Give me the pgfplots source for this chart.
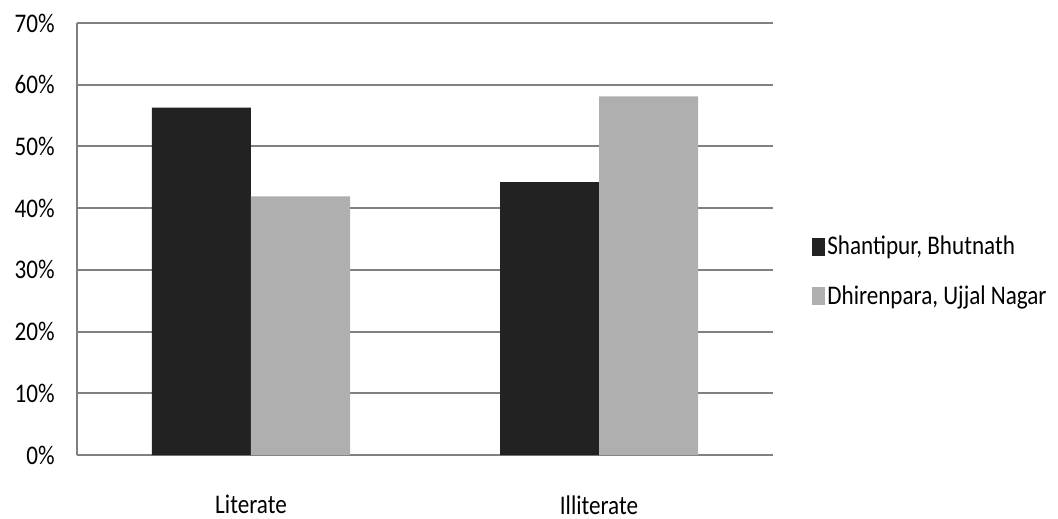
\documentclass[border=0pt]{standalone}
\usepackage{pgfplots}
\pgfplotsset{compat=1.18}
\usepackage{graphicx}
\usepackage{fontspec}
\setmainfont{Carlito}
\newcommand{\sq}[1]{\scalebox{0.86}[1]{#1}}
\definecolor{darkbar}{RGB}{34,34,34}
\definecolor{lightbar}{RGB}{175,175,175}
\definecolor{gridc}{RGB}{128,128,128}
\begin{document}
\begin{tikzpicture}
\useasboundingbox (-38.5bp,-32bp) rectangle (490.5bp,227.5bp);
\begin{axis}[
  at={(0,0)}, anchor=south west,
  scale only axis, width=348bp, height=216bp,
  xmin=-0.5, xmax=1.5, ymin=0, ymax=70,
  xtick={0,1}, xticklabels={\sq{Literate},\sq{Illiterate}},
  ytick={0,10,20,30,40,50,60,70},
  yticklabels={\sq{0\%},\sq{10\%},\sq{20\%},\sq{30\%},\sq{40\%},\sq{50\%},\sq{60\%},\sq{70\%}},
  ybar=0pt, bar width=49.5bp,
  ymajorgrids, grid style={draw=gridc, line width=1bp},
  axis x line*=bottom, axis y line*=left,
  axis line style={-, draw=gridc, line width=1bp},
  major tick length=0pt,
  tick label style={font=\fontsize{13.5}{16}\selectfont, text=black},
  yticklabel style={anchor=east, inner sep=0pt, xshift=-11bp},
  xticklabel style={anchor=north, inner sep=0pt, yshift=-20bp},
  legend style={draw=none, fill=none, at={(1.056,0.425)}, anchor=west,
    font=\fontsize{13.5}{16}\selectfont, inner sep=0pt, row sep=12bp,
    nodes={inner sep=1bp}},
  legend cell align=left,
  legend image code/.code={\fill[#1] (0bp,-4.5bp) rectangle (6.5bp,4.5bp);},
]
\addplot[fill=darkbar, draw=none] coordinates {(0,56.3) (1,44.2)};
\addplot[fill=lightbar, draw=none] coordinates {(0,41.9) (1,58.1)};
\legend{\sq{Shantipur, Bhutnath},\sq{Dhirenpara, Ujjal Nagar}}
\end{axis}
\end{tikzpicture}
\end{document}
